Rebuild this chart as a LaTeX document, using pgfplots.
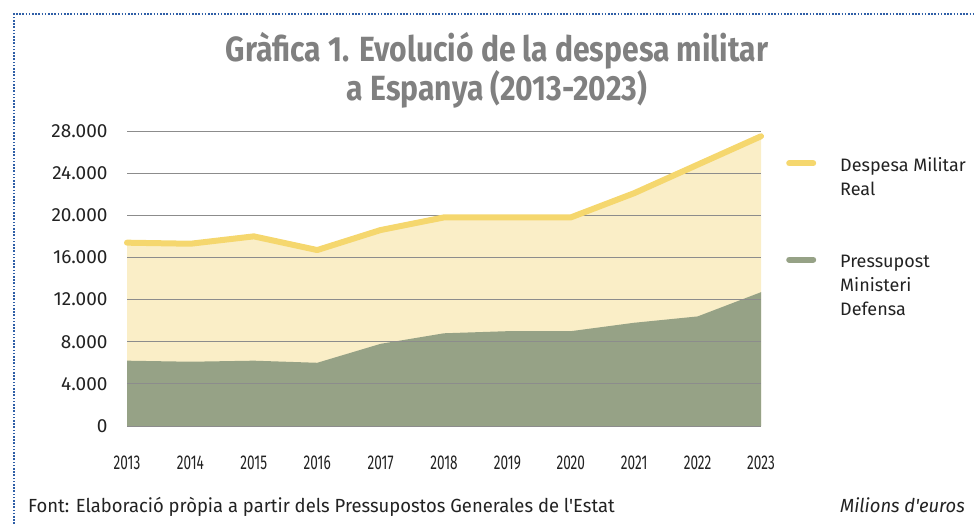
\documentclass[border=0pt]{standalone}
\usepackage{pgfplots}
\pgfplotsset{compat=1.18}
\usepackage{fontspec}
\setmainfont{Fira Sans}
\newfontfamily\condfont[FakeStretch=0.68]{Fira Sans}
\newfontfamily\titlefont[FakeStretch=0.86]{Fira Sans}
\newfontfamily\footfont[FakeStretch=0.97]{Fira Sans}
\definecolor{ylw}{HTML}{F5D76E}
\definecolor{ylwfill}{HTML}{FAEEC7}
\definecolor{grn}{HTML}{96A286}
\definecolor{gridc}{HTML}{8C8C8C}
\definecolor{ttl}{HTML}{808080}
\definecolor{brd}{HTML}{2F5FA7}
\definecolor{txt}{HTML}{222222}
\begin{document}
\begin{tikzpicture}
\draw[brd, line width=1.6pt, dash pattern=on 1.6pt off 1.6pt] (14pt,-524pt) -- (14pt,-14pt) -- (974pt,-14pt);
\node[font=\titlefont\bfseries\fontsize{35}{30}\selectfont, text=ttl, align=center] at (497pt,-70pt) {Gràfica 1. Evolució de la despesa militar\\a Espanya (2013-2023)};
\begin{axis}[
  set layers,
  at={(127pt,-426pt)}, anchor=south west,
  scale only axis, width=634pt, height=295pt,
  xmin=2013, xmax=2023, ymin=0, ymax=28000,
  clip=false, scaled y ticks=false,
  xtick={2013,2014,2015,2016,2017,2018,2019,2020,2021,2022,2023},
  xticklabels={2013,2014,2015,2016,2017,2018,2019,2020,2021,2022,2023},
  ytick={0,4000,8000,12000,16000,20000,24000,28000},
  yticklabels={0,4.000,8.000,12.000,16.000,20.000,24.000,28.000},
  xticklabel style={font=\condfont\fontsize{20}{22}\selectfont, text=txt, yshift=-26pt},
  yticklabel style={font=\fontsize{19}{22}\selectfont, text=txt, xshift=-16pt},
  axis line style={draw=none},
  major tick style={draw=none},
  ymajorgrids,
  grid style={gridc, line width=0.9pt},
  legend style={at={(1,1)}, anchor=north west, xshift=22pt, yshift=-21pt,
    draw=none, fill=none, font=\fontsize{18}{24}\selectfont, text=txt,
    /tikz/column sep=24pt, /tikz/row sep=78pt, nodes={inner sep=0pt}},
  legend cell align=left,
  legend image code/.code={\draw[#1, line width=6pt, line cap=round] (3pt,0pt) -- (27pt,0pt);},
]
\addplot[on layer=axis background, fill=ylwfill, draw=none, forget plot] coordinates {
(2013,17400) (2014,17300) (2015,18000) (2016,16700) (2017,18600) (2018,19800) (2019,19800) (2020,19800) (2021,22100) (2022,24800) (2023,27500)} \closedcycle;
\addplot[on layer=axis background, fill=grn, draw=none, forget plot] coordinates {
(2013,6200) (2014,6100) (2015,6200) (2016,6000) (2017,7800) (2018,8800) (2019,9000) (2020,9000) (2021,9800) (2022,10400) (2023,12700)} \closedcycle;
\addplot[ylw, line width=6pt, line cap=round, line join=round] coordinates {
(2013,17400) (2014,17300) (2015,18000) (2016,16700) (2017,18600) (2018,19800) (2019,19800) (2020,19800) (2021,22100) (2022,24800) (2023,27500)};
\addlegendentry{\begin{tabular}[t]{@{}l@{}}Despesa Militar\\Real\end{tabular}}
\addlegendimage{grn, line width=6pt, line cap=round}
\addlegendentry{\begin{tabular}[t]{@{}l@{}}Pressupost\\Ministeri\\Defensa\end{tabular}}
\end{axis}
\node[anchor=base west, font=\footfont\fontsize{19}{22}\selectfont, text=txt, inner sep=0pt] at (28pt,-512pt) {Font: Elaboració pròpia a partir dels Pressupostos Generales de l'Estat};
\node[anchor=base east, font=\footfont\itshape\fontsize{19}{22}\selectfont, text=txt, inner sep=0pt] at (965pt,-512pt) {Milions d'euros};
\pgfresetboundingbox
\path[use as bounding box] (0pt,0pt) rectangle (974pt,-524pt);
\end{tikzpicture}
\end{document}
